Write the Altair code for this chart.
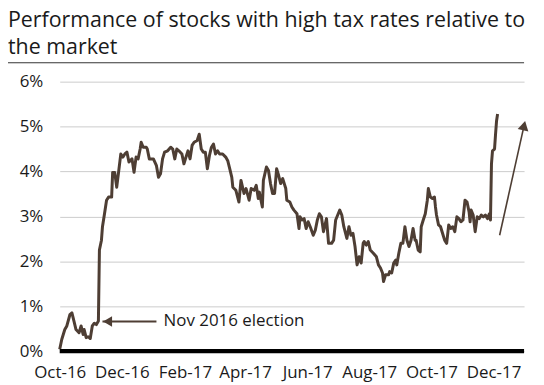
import altair as alt
import pandas as pd

# ---- data ----
# trading-day positions, counted in days from 1 Oct 2016
day_offsets = [0, 2, 5, 7, 10, 12, 14, 16, 19, 21, 23, 24, 26, 28, 30, 32, 34, 36, 38, 39,
               41, 42, 44, 46, 48, 51, 52, 54, 56, 58, 60, 62, 64, 66, 68, 71, 73, 75, 77, 79,
               80, 82, 85, 86, 88, 92, 95, 97, 99, 101, 103, 106, 109, 111, 113, 115, 117, 120, 122, 124,
               126, 128, 130, 132, 135, 137, 139, 141, 143, 145, 147, 149, 151, 153, 155, 157, 160, 163, 165, 167,
               169, 170, 173, 176, 178, 181, 183, 186, 188, 191, 193, 195, 196, 199, 200, 203, 205, 207, 209, 211,
               213, 215, 217, 219, 222, 223, 226, 228, 230, 233, 235, 236, 238, 240, 242, 244, 246, 249, 251, 253,
               255, 257, 259, 262, 264, 267, 269, 271, 273, 275, 277, 279, 282, 284, 286, 288, 290, 292, 294, 296,
               298, 299, 301, 303, 305, 308, 311, 313, 315, 317, 318, 320, 323, 324, 326, 328, 330, 331, 333, 335,
               337, 339, 341, 343, 345, 347, 349, 350, 352, 354, 355, 357, 359, 361, 362, 364, 366, 368, 369, 370,
               372, 374, 376, 378, 380, 382, 384, 386, 388, 390, 392, 394, 396, 398, 400, 402, 403, 404, 406, 408,
               410, 412, 414, 416, 418, 420, 422, 423, 424, 425, 427, 428, 429, 430]

relative_perf = [0.04, 0.26, 0.48, 0.56, 0.81, 0.85, 0.67, 0.48, 0.41, 0.56, 0.37, 0.48, 0.30, 0.32, 0.28, 0.56, 0.62, 0.59, 0.67, 2.25,
                 2.47, 2.77, 3.06, 3.36, 3.43, 3.43, 3.98, 3.98, 3.65, 4.02, 4.39, 4.32, 4.39, 4.43, 4.21, 4.28, 3.98, 4.32, 4.28, 4.50,
                 4.65, 4.54, 4.54, 4.50, 4.28, 4.28, 4.13, 3.87, 3.95, 4.28, 4.43, 4.46, 4.54, 4.50, 4.28, 4.50, 4.46, 4.39, 4.17, 4.32,
                 4.46, 4.28, 4.58, 4.65, 4.69, 4.83, 4.50, 4.43, 4.43, 4.06, 4.35, 4.54, 4.61, 4.39, 4.46, 4.39, 4.39, 4.32, 4.24, 4.06,
                 3.87, 3.65, 3.58, 3.32, 3.80, 3.51, 3.62, 3.36, 3.62, 3.58, 3.69, 3.40, 3.54, 3.21, 3.80, 4.10, 4.02, 3.73, 3.51, 3.51,
                 4.06, 3.91, 3.73, 3.84, 3.62, 3.36, 3.32, 3.21, 3.14, 3.06, 2.73, 2.99, 2.92, 2.95, 2.73, 2.88, 2.77, 2.58, 2.69, 2.92,
                 3.06, 2.99, 2.66, 2.95, 2.40, 2.40, 2.47, 2.92, 3.03, 3.14, 3.03, 2.77, 2.51, 2.77, 2.58, 2.62, 2.33, 1.92, 2.10, 1.96,
                 2.40, 2.44, 2.36, 2.44, 2.25, 2.18, 2.10, 1.92, 1.85, 1.74, 1.55, 1.70, 1.70, 1.77, 1.74, 1.96, 2.03, 1.92, 2.18, 2.40,
                 2.40, 2.77, 2.47, 2.33, 2.47, 2.73, 2.47, 2.47, 2.25, 2.21, 2.77, 2.92, 3.06, 3.36, 3.62, 3.43, 3.40, 3.43, 3.21, 3.03,
                 2.81, 2.77, 2.62, 2.47, 2.40, 2.81, 2.73, 2.77, 2.66, 2.99, 2.95, 2.88, 2.92, 3.36, 3.32, 3.10, 2.88, 3.14, 3.03, 2.66,
                 2.99, 2.95, 3.03, 2.99, 3.03, 2.95, 3.06, 2.92, 4.17, 4.46, 4.50, 4.83, 5.13, 5.28]

x_tick_dates = [(2016, 10), (2016, 12), (2017, 2), (2017, 4), (2017, 6), (2017, 8), (2017, 10), (2017, 12)]
y_ticks = [0, 1, 2, 3, 4, 5, 6]

title_lines = ["Performance of stocks with high tax rates relative to", "the market"]

election_label = ["Nov 2016 election"]
election_arrow_start = ["2016-11-12"]
election_arrow_end = ["2017-01-04"]
election_head = ["2016-11-17"]
election_text_at = ["2017-01-11"]
election_level = [0.66]

trend_start = ["2017-12-07"]
trend_start_level = [2.58]
trend_end = ["2017-12-31"]
trend_end_level = [5.02]

# ---- build tables ----
start = pd.Timestamp("2016-10-01")
dates = [(start + pd.Timedelta(days=d)).strftime("%Y-%m-%d") for d in day_offsets]
df = pd.DataFrame({"date": dates, "value": relative_perf})

brown = "#4e3e34"
font = "Open Sans"
W, H = 467, 271

x_scale = alt.Scale(type="utc", nice=False,
                    domain=[alt.DateTime(year=2016, month=10, date=1, utc=True),
                            alt.DateTime(year=2017, month=12, date=31, utc=True)])
y_scale = alt.Scale(domain=[0, 6], nice=False)

x_axis = alt.Axis(values=[alt.DateTime(year=y, month=m, date=1, utc=True) for y, m in x_tick_dates],
                  format="%b-%y", grid=False, ticks=False, domain=False, labelPadding=14,
                  labelFontSize=17, labelFont=font, labelColor="#1a1a1a", labelFlush=False,
                  labelOverlap=False, title=None)
y_axis = alt.Axis(values=y_ticks, labelExpr="datum.value + '%'", ticks=False, domain=False,
                  labelPadding=17, labelFontSize=17, labelFont=font, labelColor="#1a1a1a",
                  gridColor="#cccccc", gridWidth=1, title=None)

line = alt.Chart(df).mark_line(color=brown, strokeWidth=3, strokeJoin="round").encode(
    x=alt.X("date:T", scale=x_scale, axis=x_axis),
    y=alt.Y("value:Q", scale=y_scale, axis=y_axis),
)

baseline = alt.Chart(pd.DataFrame({"v": [0]})).mark_rule(color="black", strokeWidth=4.5).encode(
    y=alt.Y("v:Q", scale=y_scale)
)

el_df = pd.DataFrame({"s": election_arrow_start, "e": election_arrow_end, "h": election_head,
                      "t": election_text_at, "y": election_level, "label": election_label})
el_rule = alt.Chart(el_df).mark_rule(color=brown, strokeWidth=2).encode(
    x=alt.X("s:T", scale=x_scale), x2="e:T", y=alt.Y("y:Q", scale=y_scale))
el_head = alt.Chart(el_df).mark_point(shape="triangle-left", filled=True, opacity=1, color=brown,
                                      size=110).encode(
    x=alt.X("h:T", scale=x_scale), y=alt.Y("y:Q", scale=y_scale))
el_text = alt.Chart(el_df).mark_text(align="left", baseline="middle", fontSize=17, font=font,
                                     color="#1a1a1a").encode(
    x=alt.X("t:T", scale=x_scale), y=alt.Y("y:Q", scale=y_scale), text="label:N")

tr_df = pd.DataFrame({"s": trend_start, "sy": trend_start_level, "e": trend_end, "ey": trend_end_level})
tr_rule = alt.Chart(tr_df).mark_rule(color=brown, strokeWidth=1.6).encode(
    x=alt.X("s:T", scale=x_scale), y=alt.Y("sy:Q", scale=y_scale), x2="e:T", y2="ey:Q")
tr_head = alt.Chart(tr_df).mark_point(shape="triangle-up", filled=True, opacity=1, color=brown,
                                      size=120, angle=13).encode(
    x=alt.X("e:T", scale=x_scale), y=alt.Y("ey:Q", scale=y_scale))

one = pd.DataFrame({"a": [0]})
title1 = alt.Chart(one).mark_text(align="left", baseline="alphabetic", fontSize=21.5, font=font,
                                  color="#1a1a1a").encode(
    x=alt.value(-52), y=alt.value(-54.5), text=alt.value(title_lines[0]))
title2 = alt.Chart(one).mark_text(align="left", baseline="alphabetic", fontSize=21.5, font=font,
                                  color="#1a1a1a").encode(
    x=alt.value(-52), y=alt.value(-28), text=alt.value(title_lines[1]))
title_rule = alt.Chart(one).mark_rule(color="#333333", strokeWidth=1).encode(
    x=alt.value(-52), x2=alt.value(W), y=alt.value(-19))

chart = alt.layer(
    line, baseline, el_rule, el_head, el_text, tr_rule, tr_head, title1, title2, title_rule
).properties(
    width=W, height=H,
    padding={"left": 52, "top": 73, "right": 12, "bottom": 31},
    autosize=alt.AutoSizeParams(type="none"),
).configure_view(stroke=None)

chart.save("out.html", embed_options={"renderer": "svg", "actions": False})
